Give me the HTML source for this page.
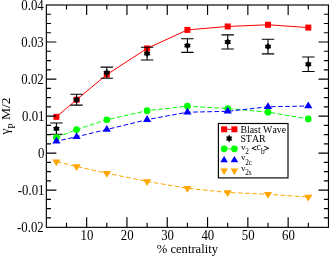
<!DOCTYPE html>
<html><head><meta charset="utf-8"><title>plot</title>
<style>html,body{margin:0;padding:0;background:#fff;overflow:hidden}body{width:332px;height:257px;font-family:"Liberation Serif",serif}</style></head>
<body>
<svg width="332" height="257" viewBox="0 0 332 257" style="display:block;will-change:transform">
<rect width="332" height="257" fill="#fff"/>
<polyline points="56.42,116.84 76.57,99.69 106.80,74.62 147.10,48.44 187.40,29.89 227.70,26.48 268.00,24.78 308.30,27.59" fill="none" stroke="#ff0000" stroke-width="1.0"/>
<rect x="53.42" y="113.84" width="6.00" height="6.00" fill="#ff0000"/>
<rect x="73.57" y="96.69" width="6.00" height="6.00" fill="#ff0000"/>
<rect x="103.80" y="71.62" width="6.00" height="6.00" fill="#ff0000"/>
<rect x="144.10" y="45.44" width="6.00" height="6.00" fill="#ff0000"/>
<rect x="184.40" y="26.89" width="6.00" height="6.00" fill="#ff0000"/>
<rect x="224.70" y="23.48" width="6.00" height="6.00" fill="#ff0000"/>
<rect x="265.00" y="21.78" width="6.00" height="6.00" fill="#ff0000"/>
<rect x="305.30" y="24.59" width="6.00" height="6.00" fill="#ff0000"/>
<path d="M56.42 123.00V134.30M50.22 123.00H62.62M50.22 134.30H62.62" stroke="#000" stroke-width="1.1" fill="none"/>
<polygon points="56.42,125.25 55.16,126.66 53.19,126.95 53.89,128.65 53.19,130.35 55.16,130.64 56.42,132.05 57.69,130.64 59.66,130.35 58.95,128.65 59.66,126.95 57.69,126.66" fill="#000"/>
<path d="M76.57 94.20V105.10M70.37 94.20H82.77M70.37 105.10H82.77" stroke="#000" stroke-width="1.1" fill="none"/>
<polygon points="76.57,96.25 75.31,97.66 73.34,97.95 74.04,99.65 73.34,101.35 75.31,101.64 76.57,103.05 77.84,101.64 79.81,101.35 79.10,99.65 79.81,97.95 77.84,97.66" fill="#000"/>
<path d="M106.80 67.10V78.20M100.60 67.10H113.00M100.60 78.20H113.00" stroke="#000" stroke-width="1.1" fill="none"/>
<polygon points="106.80,69.25 105.53,70.66 103.56,70.95 104.27,72.65 103.56,74.35 105.53,74.64 106.80,76.05 108.06,74.64 110.04,74.35 109.33,72.65 110.04,70.95 108.06,70.66" fill="#000"/>
<path d="M147.10 47.20V60.00M140.90 47.20H153.30M140.90 60.00H153.30" stroke="#000" stroke-width="1.1" fill="none"/>
<polygon points="147.10,50.20 145.84,51.61 143.86,51.90 144.57,53.60 143.86,55.30 145.83,55.59 147.10,57.00 148.36,55.59 150.34,55.30 149.63,53.60 150.34,51.90 148.36,51.61" fill="#000"/>
<path d="M187.40 38.80V52.40M181.20 38.80H193.60M181.20 52.40H193.60" stroke="#000" stroke-width="1.1" fill="none"/>
<polygon points="187.40,42.20 186.13,43.61 184.16,43.90 184.87,45.60 184.16,47.30 186.13,47.59 187.40,49.00 188.66,47.59 190.64,47.30 189.93,45.60 190.64,43.90 188.66,43.61" fill="#000"/>
<path d="M227.70 34.90V49.00M221.50 34.90H233.90M221.50 49.00H233.90" stroke="#000" stroke-width="1.1" fill="none"/>
<polygon points="227.70,38.55 226.44,39.96 224.46,40.25 225.17,41.95 224.46,43.65 226.43,43.94 227.70,45.35 228.96,43.94 230.94,43.65 230.23,41.95 230.94,40.25 228.96,39.96" fill="#000"/>
<path d="M268.00 39.30V53.90M261.80 39.30H274.20M261.80 53.90H274.20" stroke="#000" stroke-width="1.1" fill="none"/>
<polygon points="268.00,43.20 266.74,44.61 264.76,44.90 265.47,46.60 264.76,48.30 266.74,48.59 268.00,50.00 269.26,48.59 271.24,48.30 270.53,46.60 271.24,44.90 269.26,44.61" fill="#000"/>
<path d="M308.30 57.00V71.50M302.10 57.00H314.50M302.10 71.50H314.50" stroke="#000" stroke-width="1.1" fill="none"/>
<polygon points="308.30,60.85 307.04,62.26 305.06,62.55 305.77,64.25 305.06,65.95 307.04,66.24 308.30,67.65 309.56,66.24 311.54,65.95 310.83,64.25 311.54,62.55 309.56,62.26" fill="#000"/>
<polyline points="56.42,137.51 76.57,129.54 106.80,119.73 147.10,110.66 187.40,106.18 227.70,108.55 268.00,112.14 308.30,118.95" fill="none" stroke="#00ff00" stroke-width="1.0" stroke-dasharray="3.7 3.35" stroke-dashoffset="-0.8" stroke-linecap="square"/>
<circle cx="56.42" cy="137.51" r="3.35" fill="#00ff00"/>
<circle cx="76.57" cy="129.54" r="3.35" fill="#00ff00"/>
<circle cx="106.80" cy="119.73" r="3.35" fill="#00ff00"/>
<circle cx="147.10" cy="110.66" r="3.35" fill="#00ff00"/>
<circle cx="187.40" cy="106.18" r="3.35" fill="#00ff00"/>
<circle cx="227.70" cy="108.55" r="3.35" fill="#00ff00"/>
<circle cx="268.00" cy="112.14" r="3.35" fill="#00ff00"/>
<circle cx="308.30" cy="118.95" r="3.35" fill="#00ff00"/>
<polyline points="56.42,141.21 76.57,136.73 106.80,129.51 147.10,119.62 187.40,112.21 227.70,111.32 268.00,106.77 308.30,105.99" fill="none" stroke="#0000ff" stroke-width="1.0" stroke-dasharray="3.7 3.40" stroke-dashoffset="1.6" stroke-linecap="square"/>
<polygon points="56.42,136.68 52.32,143.48 60.52,143.48" fill="#0000ff"/>
<polygon points="76.57,132.19 72.47,138.99 80.67,138.99" fill="#0000ff"/>
<polygon points="106.80,124.97 102.70,131.77 110.90,131.77" fill="#0000ff"/>
<polygon points="147.10,115.08 143.00,121.88 151.20,121.88" fill="#0000ff"/>
<polygon points="187.40,107.68 183.30,114.48 191.50,114.48" fill="#0000ff"/>
<polygon points="227.70,106.79 223.60,113.59 231.80,113.59" fill="#0000ff"/>
<polygon points="268.00,102.23 263.90,109.03 272.10,109.03" fill="#0000ff"/>
<polygon points="308.30,101.46 304.20,108.26 312.40,108.26" fill="#0000ff"/>
<polyline points="56.42,161.65 76.57,166.47 106.80,173.24 147.10,181.43 187.40,188.31 227.70,192.50 268.00,194.24 308.30,197.02" fill="none" stroke="#ffa500" stroke-width="1.0" stroke-dasharray="3.7 3.38" stroke-dashoffset="-1.0" stroke-linecap="square"/>
<polygon points="56.42,166.18 52.32,159.38 60.52,159.38" fill="#ffa500"/>
<polygon points="76.57,171.00 72.47,164.20 80.67,164.20" fill="#ffa500"/>
<polygon points="106.80,177.78 102.70,170.98 110.90,170.98" fill="#ffa500"/>
<polygon points="147.10,185.96 143.00,179.16 151.20,179.16" fill="#ffa500"/>
<polygon points="187.40,192.85 183.30,186.05 191.50,186.05" fill="#ffa500"/>
<polygon points="227.70,197.03 223.60,190.23 231.80,190.23" fill="#ffa500"/>
<polygon points="268.00,198.77 263.90,191.97 272.10,191.97" fill="#ffa500"/>
<polygon points="308.30,201.55 304.20,194.75 312.40,194.75" fill="#ffa500"/>
<path d="M66.50 227.35v-4.6M66.50 5.00v4.6M86.65 227.35v-10.0M86.65 5.00v10.0M106.80 227.35v-4.6M106.80 5.00v4.6M126.95 227.35v-10.0M126.95 5.00v10.0M147.10 227.35v-4.6M147.10 5.00v4.6M167.25 227.35v-10.0M167.25 5.00v10.0M187.40 227.35v-4.6M187.40 5.00v4.6M207.55 227.35v-10.0M207.55 5.00v10.0M227.70 227.35v-4.6M227.70 5.00v4.6M247.85 227.35v-10.0M247.85 5.00v10.0M268.00 227.35v-4.6M268.00 5.00v4.6M288.15 227.35v-10.0M288.15 5.00v10.0M308.30 227.35v-4.6M308.30 5.00v4.6M46.35 217.94h4.6M328.45 217.94h-4.6M46.35 208.68h4.6M328.45 208.68h-4.6M46.35 199.42h4.6M328.45 199.42h-4.6M46.35 190.17h10.0M328.45 190.17h-10.0M46.35 180.91h4.6M328.45 180.91h-4.6M46.35 171.65h4.6M328.45 171.65h-4.6M46.35 162.39h4.6M328.45 162.39h-4.6M46.35 153.13h10.0M328.45 153.13h-10.0M46.35 143.88h4.6M328.45 143.88h-4.6M46.35 134.62h4.6M328.45 134.62h-4.6M46.35 125.36h4.6M328.45 125.36h-4.6M46.35 116.10h10.0M328.45 116.10h-10.0M46.35 106.84h4.6M328.45 106.84h-4.6M46.35 97.58h4.6M328.45 97.58h-4.6M46.35 88.32h4.6M328.45 88.32h-4.6M46.35 79.07h10.0M328.45 79.07h-10.0M46.35 69.81h4.6M328.45 69.81h-4.6M46.35 60.55h4.6M328.45 60.55h-4.6M46.35 51.29h4.6M328.45 51.29h-4.6M46.35 42.03h10.0M328.45 42.03h-10.0M46.35 32.77h4.6M328.45 32.77h-4.6M46.35 23.52h4.6M328.45 23.52h-4.6M46.35 14.26h4.6M328.45 14.26h-4.6" stroke="#000" stroke-width="1.15" fill="none"/>
<rect x="46.35" y="5.0" width="282.10" height="222.35" fill="none" stroke="#000" stroke-width="1.15"/>
<g font-family="Liberation Serif, serif" font-size="12.8" fill="#000" style="font-kerning:none">
<text transform="translate(43.75,232.25) scale(1,1.09)" text-anchor="end">-0.02</text>
<text transform="translate(44.45,195.22) scale(1,1.09)" text-anchor="end">-0.01</text>
<text transform="translate(44.35,158.18) scale(1,1.09)" text-anchor="end">0</text>
<text transform="translate(44.45,121.15) scale(1,1.09)" text-anchor="end">0.01</text>
<text transform="translate(43.75,84.12) scale(1,1.09)" text-anchor="end">0.02</text>
<text transform="translate(43.75,47.08) scale(1,1.09)" text-anchor="end">0.03</text>
<text transform="translate(43.75,10.05) scale(1,1.09)" text-anchor="end">0.04</text>
<text transform="translate(86.95,239.5) scale(1,1.17)" text-anchor="middle">10</text>
<text transform="translate(127.25,239.5) scale(1,1.17)" text-anchor="middle">20</text>
<text transform="translate(167.55,239.5) scale(1,1.17)" text-anchor="middle">30</text>
<text transform="translate(207.85,239.5) scale(1,1.17)" text-anchor="middle">40</text>
<text transform="translate(248.15,239.5) scale(1,1.17)" text-anchor="middle">50</text>
<text transform="translate(288.45,239.5) scale(1,1.17)" text-anchor="middle">60</text>
<text x="187.40" y="252.7" text-anchor="middle" font-size="12.6">% centrality</text>
<text transform="translate(9.5,116.0) rotate(-90)" text-anchor="middle" font-size="13.5"><tspan dy="-0.4">γ</tspan><tspan font-size="9.6" dy="5.7">P</tspan><tspan dy="-5.3"> M/2</tspan></text>
</g>
<rect x="218.4" y="123.5" width="69.60" height="54.40" fill="#fff" stroke="#000" stroke-width="1.15"/>
<path d="M224.1 129.3H234.4" stroke="#ff0000" stroke-width="1.0"/>
<rect x="221.10" y="126.30" width="6.00" height="6.00" fill="#ff0000"/>
<rect x="231.40" y="126.30" width="6.00" height="6.00" fill="#ff0000"/>
<polygon points="229.15,134.60 228.05,136.42 226.04,136.55 226.94,138.50 226.04,140.45 228.05,140.58 229.15,142.40 230.25,140.58 232.26,140.45 231.36,138.50 232.26,136.55 230.25,136.42" fill="#000"/>
<path d="M224.1 148.8H234.4" stroke="#00ff00" stroke-width="0.85"/>
<circle cx="224.10" cy="148.80" r="3.35" fill="#00ff00"/>
<circle cx="234.40" cy="148.80" r="3.35" fill="#00ff00"/>
<polygon points="224.10,155.98 220.29,162.31 227.91,162.31" fill="#0000ff"/>
<polygon points="234.40,155.98 230.59,162.31 238.21,162.31" fill="#0000ff"/>
<polygon points="224.10,174.92 220.29,168.59 227.91,168.59" fill="#ffa500"/>
<polygon points="234.40,174.92 230.59,168.59 238.21,168.59" fill="#ffa500"/>
<g font-family="Liberation Serif, serif" font-size="9.85" fill="#000" style="font-kerning:none">
<text x="240.4" y="133">Blast Wave</text>
<text x="240.4" y="141.9">STAR</text>
<text x="241.0" y="149.7" font-size="9.0">v</text>
<text transform="translate(245.2,153.9) scale(0.1)" font-size="73.0">2</text>
<text x="251.5" y="151.0" font-size="9.2" stroke="#000" stroke-width="0.35">&lt;</text>
<text x="256.6" y="149.9">c</text>
<text transform="translate(260.9,153.9) scale(0.1)" font-size="73.0">b</text>
<text x="264.0" y="151.0" font-size="9.2" stroke="#000" stroke-width="0.35">&gt;</text>
<text x="241.0" y="160.3" font-size="9.0">v</text>
<text transform="translate(245.2,164.6) scale(0.1)" font-size="73.0">2c</text>
<text x="241.0" y="170.9" font-size="9.0">v</text>
<text transform="translate(245.2,175.2) scale(0.1)" font-size="73.0">2s</text>
</g>
</svg>
</body></html>
